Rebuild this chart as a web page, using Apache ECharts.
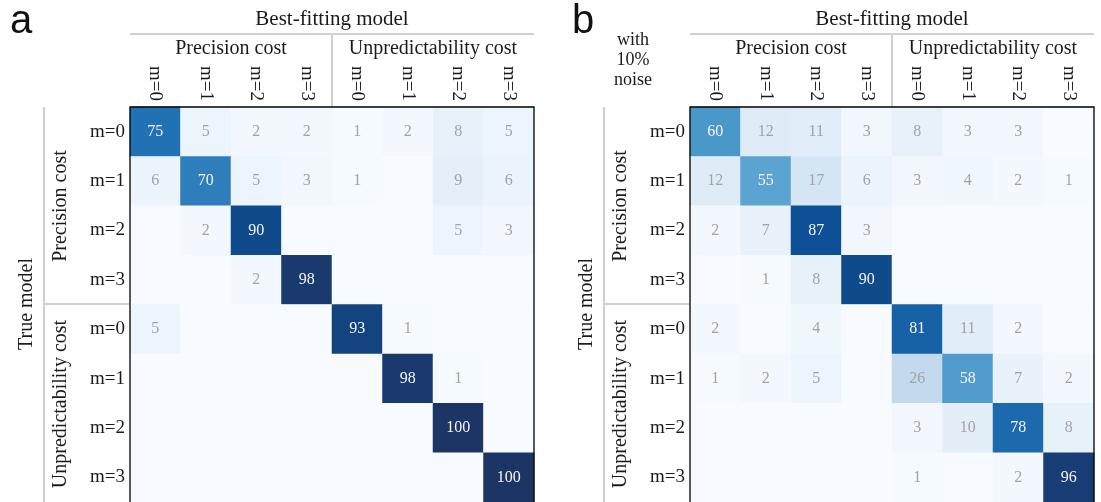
<!DOCTYPE html>
<html>
<head>
<meta charset="utf-8">
<script src="https://cdn.jsdelivr.net/npm/echarts@6/dist/echarts.min.js"></script>
<style>
html,body{margin:0;padding:0;background:#fff;}
#chart{width:1101px;height:502px;}
</style>
</head>
<body>
<div id="chart"></div>
<script>
// ---- data ----
const colLabels = ['m=0','m=1','m=2','m=3','m=0','m=1','m=2','m=3'];
const rowLabels = ['m=0','m=1','m=2','m=3','m=0','m=1','m=2','m=3'];
const groupLabels = ['Precision cost','Unpredictability cost'];
const topTitle = 'Best-fitting model';
const sideTitle = 'True model';
const panelLetters = ['a','b'];
const noiseNote = ['with','10%','noise'];

// rows: true model, columns: best-fitting model (percent)
const matrixA = [
  [75, 5, 2, 2, 1, 2, 8, 5],
  [ 6,70, 5, 3, 1, 0, 9, 6],
  [ 0, 2,90, 0, 0, 0, 5, 3],
  [ 0, 0, 2,98, 0, 0, 0, 0],
  [ 5, 0, 0, 0,93, 1, 0, 0],
  [ 0, 0, 0, 0, 0,98, 1, 0],
  [ 0, 0, 0, 0, 0, 0,100,0],
  [ 0, 0, 0, 0, 0, 0, 0,100]
];
const matrixB = [
  [60,12,11, 3, 8, 3, 3, 0],
  [12,55,17, 6, 3, 4, 2, 1],
  [ 2, 7,87, 3, 0, 0, 0, 0],
  [ 0, 1, 8,90, 0, 0, 0, 0],
  [ 2, 0, 4, 0,81,11, 2, 0],
  [ 1, 2, 5, 0,26,58, 7, 2],
  [ 0, 0, 0, 0, 3,10,78, 8],
  [ 0, 0, 0, 0, 1, 0, 2,96]
];

// ---- build ----
const SERIF = '"Liberation Serif", "DejaVu Serif", serif';
const TXT = '#1a1a1a';
const GRAY = '#d0d0d0';

function toData(m){
  const out=[];
  m.forEach((row,r)=>row.forEach((v,c)=>out.push([c,r,v])));
  return out;
}

const panels = [
  {dx:0, data:toData(matrixA)},
  {dx:560, data:toData(matrixB)}
];
const GL=130, GT=107, GW=404, GH=396;

const grids=[], xAxes=[], yAxes=[], series=[], graphics=[];
panels.forEach((p,i)=>{
  grids.push({left:GL+p.dx, top:GT, width:GW, height:GH, show:false, containLabel:false});
  xAxes.push({type:'category', gridIndex:i, data:colLabels, position:'top',
    axisLine:{show:false}, axisTick:{show:false}, splitLine:{show:false},
    axisLabel:{rotate:90, margin:6, fontFamily:SERIF, fontSize:19, color:TXT, interval:0}});
  yAxes.push({type:'category', gridIndex:i, data:rowLabels, inverse:true,
    axisLine:{show:false}, axisTick:{show:false}, splitLine:{show:false},
    axisLabel:{margin:5, fontFamily:SERIF, fontSize:19, color:TXT, interval:0}});
  series.push({type:'heatmap', xAxisIndex:i, yAxisIndex:i, data:p.data,
    itemStyle:{borderWidth:0},
    emphasis:{disabled:true},
    label:{show:true, formatter:(q)=>{const v=q.value[2]; if(!v) return ''; return v>=50?'{w|'+v+'}':'{g|'+v+'}';},
      rich:{w:{color:'#f4f6fa', fontFamily:SERIF, fontSize:16},
            g:{color:'#a3a3a3', fontFamily:SERIF, fontSize:16}}}});

  const dx=p.dx;
  const line=(x1,y1,x2,y2)=>({type:'line', shape:{x1,y1,x2,y2}, style:{stroke:GRAY, lineWidth:2}, silent:true});
  const txt=(s,x,y,size,rot,extra)=>Object.assign({type:'text', x, y, rotation:rot||0, silent:true,
    style:{text:s, font:size+'px '+SERIF, fill:TXT, textAlign:'center', textVerticalAlign:'middle'}}, extra||{});
  // matrix frame
  graphics.push({type:'rect', z:100, silent:true, shape:{x:dx+GL, y:GT, width:GW, height:GH},
    style:{fill:'none', stroke:'#000', lineWidth:1.3}});
  // panel letter
  graphics.push({type:'text', x:dx+10+(i?2:0), y:22, silent:true,
    style:{text:panelLetters[i], font:'40px "Liberation Sans", "DejaVu Sans", sans-serif', fill:'#111', textAlign:'left', textVerticalAlign:'middle'}});
  // top header
  graphics.push(txt(topTitle, dx+GL+GW/2, 19, 21));
  graphics.push(line(dx+GL, 34, dx+GL+GW, 34));
  graphics.push(line(dx+GL+GW/2, 34, dx+GL+GW/2, GT));
  graphics.push(txt(groupLabels[0], dx+GL+GW/4, 49, 20));
  graphics.push(txt(groupLabels[1], dx+GL+3*GW/4, 49, 20));
  // left header
  graphics.push(txt(sideTitle, dx+27, GT+GH/2-1, 20, Math.PI/2));
  graphics.push(line(dx+44, GT, dx+44, 502));
  graphics.push(line(dx+44, GT+GH/2-1, dx+GL, GT+GH/2-1));
  graphics.push(txt(groupLabels[0], dx+61, GT+GH/4, 20, Math.PI/2));
  graphics.push(txt(groupLabels[1], dx+61, GT+3*GH/4, 20, Math.PI/2));
});
noiseNote.forEach((s,k)=>{
  graphics.push({type:'text', x:633, y:40+k*20, silent:true,
    style:{text:s, font:'18px '+SERIF, fill:TXT, textAlign:'center', textVerticalAlign:'middle'}});
});

const chart = echarts.init(document.getElementById('chart'), null, {renderer:'canvas'});
chart.setOption({
  animation:false,
  backgroundColor:'#fff',
  grid:grids, xAxis:xAxes, yAxis:yAxes, series:series,
  visualMap:{type:'continuous', show:false, min:0, max:100, seriesIndex:[0,1], dimension:2,
    inRange:{color:['#f7fbff','#deebf7','#c6dbef','#9ecae1','#6baed6','#4292c6','#2171b5','#0c4f95','#1d3564']}},
  graphic:graphics
});
</script>
</body>
</html>
